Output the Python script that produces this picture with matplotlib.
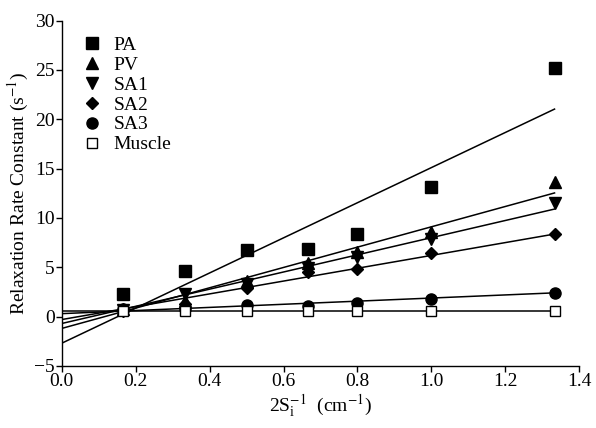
import numpy as np
import matplotlib
matplotlib.use("Agg")
import matplotlib.pyplot as plt

plt.rcParams['font.family'] = ['Liberation Serif', 'DejaVu Serif']
plt.rcParams['mathtext.fontset'] = 'stix'

# inverse source spacing (cm^-1)
x_vals = [0.167, 0.333, 0.5, 0.667, 0.8, 1.0, 1.333]

pa = [2.3, 4.6, 6.7, 6.9, 8.4, 13.1, 25.2]
pv = [0.8, 1.6, 3.6, 5.4, 6.5, 8.6, 13.6]
sa1 = [0.7, 2.3, 3.3, 4.9, 6.0, 7.9, 11.5]
sa2 = [0.6, 1.3, 2.9, 4.5, 4.8, 6.4, 8.4]
sa3 = [0.8, 0.8, 1.2, 1.1, 1.4, 1.8, 2.4]
muscle = [0.6, 0.6, 0.6, 0.6, 0.6, 0.6, 0.6]

# linear fits as drawn (slope, intercept)
fit_slope = [17.8, 10.3, 8.7, 6.5, 1.58, 0.0]
fit_icept = [-2.7, -1.2, -0.7, -0.3, 0.3, 0.6]
fit_x = [0.0, 1.333]

names = ['PA', 'PV', 'SA1', 'SA2', 'SA3', 'Muscle']
series = [pa, pv, sa1, sa2, sa3, muscle]
markers = ['s', '^', 'v', 'D', 'o', 's']
msizes = [8, 8, 8, 6.5, 8, 7.5]

fig = plt.figure(figsize=(5.96, 4.28), dpi=100)
ax = fig.add_axes([0.1035, 0.145, 0.8685, 0.807])

xf = np.array(fit_x)
for m, b in zip(fit_slope, fit_icept):
    ax.plot(xf, m * xf + b, color='black', lw=1.1, zorder=1)

for name, ys, mk, ms in zip(names, series, markers, msizes):
    face = 'white' if name == 'Muscle' else 'black'
    ax.plot(x_vals, ys, linestyle='none', marker=mk, markersize=ms,
            markerfacecolor=face, markeredgecolor='black', markeredgewidth=1.0,
            label=name, zorder=3)

ax.set_xlim(0, 1.4)
ax.set_ylim(-5, 30)
ax.set_xticks(np.arange(0, 1.41, 0.2))
ax.set_xticklabels(['0.0', '0.2', '0.4', '0.6', '0.8', '1.0', '1.2', '1.4'])
ax.set_yticks(range(-5, 31, 5))

for s in ['top', 'right']:
    ax.spines[s].set_visible(False)
for s in ['left', 'bottom']:
    ax.spines[s].set_linewidth(1.0)
ax.tick_params(direction='out', length=4, width=1.0, labelsize=14, pad=1)

ax.set_ylabel('Relaxation Rate Constant (s$^{-1}$)', fontsize=14, labelpad=2)
ax.set_xlabel(r'2S$_\mathregular{i}^{-1}$  (cm$^{-1}$)', fontsize=14, labelpad=2)

leg = ax.legend(loc='upper left', bbox_to_anchor=(0.04, 0.955), frameon=False,
                fontsize=14, handlelength=1.0, handletextpad=0.6, labelspacing=0.12,
                borderpad=0, borderaxespad=0)
leg.legend_handles[-1].set_markersize(6.5)

fig.savefig('out.png', dpi=100)
